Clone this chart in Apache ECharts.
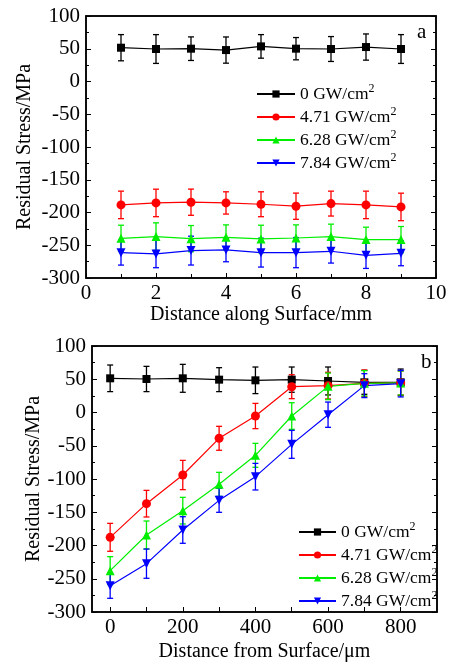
<!DOCTYPE html>
<html>
<head>
<meta charset="utf-8">
<script src="https://cdn.jsdelivr.net/npm/echarts@6/dist/echarts.min.js"></script>
<style>
  html, body { margin: 0; padding: 0; background: #fff; }
  #chart { width: 449px; height: 662px; }
</style>
</head>
<body>
<div id="chart"></div>
<script>
// panel a: distance along surface (mm)
const xA = [1, 2, 3, 4, 5, 6, 7, 8, 9];
const a0 = [51.6, 49.6, 50.1, 48.0, 53.6, 50.1, 49.6, 52.6, 49.6];
const a0Err = [20, 22, 18, 20, 18, 17, 19, 20, 22];
const a471 = [-188.4, -185.4, -184.3, -185.4, -187.4, -190.4, -186.4, -188.4, -191.5];
const a471Err = [21, 21, 20, 17, 19, 20, 19, 21, 21];
const a628 = [-239.4, -236.8, -239.9, -237.9, -240.4, -238.9, -236.8, -241.4, -241.4];
const a628Err = [20, 21, 20, 19, 21, 20, 19, 19, 20];
const a784 = [-261.3, -263.3, -258.2, -257.2, -261.3, -261.3, -259.2, -265.4, -262.3];
const a784Err = [19, 21, 22, 18, 22, 23, 18, 20, 19];

// panel b: distance from surface (um)
const xB = [0, 100, 200, 300, 400, 500, 600, 700, 800];
const b0 = [51.4, 50.4, 51.4, 49.4, 48.4, 49.4, 47.4, 45.4, 45.4];
const b0Err = [20, 19, 21, 18, 20, 19, 21, 18, 20];
const b471 = [-187.7, -137.1, -94.0, -38.8, -5.3, 38.8, 40.4, 43.9, 44.4];
const b471Err = [21, 20, 22, 18, 19, 18, 20, 20, 18];
const b628 = [-237.8, -184.2, -147.6, -108.0, -64.4, -5.3, 39.3, 43.9, 44.4];
const b628Err = [21, 21, 20, 18, 18, 20, 20, 19, 18];
const b784 = [-260.4, -227.3, -176.7, -132.1, -96.5, -47.9, -3.3, 40.4, 43.4];
const b784Err = [19, 22, 20, 18, 20, 21, 19, 18, 20];

const xTicksB = [0, 100, 200, 300, 400, 500, 600, 700, 800];
const xLabelsB = [0, 200, 400, 600, 800];

const names = ['0 GW/cm2', '4.71 GW/cm2', '6.28 GW/cm2', '7.84 GW/cm2'];
const colors = ['#000000', '#ff0000', '#00ee00', '#0000ff'];
const symbols = ['rect', 'circle', 'triangle', 'path://M0,0 L10,0 L5,9 Z'];
const symSizes = [8, 9, 9, 9];

const FONT = 'Liberation Serif';

function pairs(xs, ys) { return xs.map((x, i) => [x, ys[i]]); }
function errs(xs, ys, es) { return xs.map((x, i) => [x, ys[i] - es[i], ys[i] + es[i]]); }

function errorBar(params, api) {
  const x = api.value(0);
  const lo = api.coord([x, api.value(1)]);
  const hi = api.coord([x, api.value(2)]);
  const w = 3;
  const style = { stroke: api.visual('color'), lineWidth: 1.3 };
  return {
    type: 'group',
    children: [
      { type: 'line', shape: { x1: lo[0], y1: lo[1], x2: hi[0], y2: hi[1] }, style },
      { type: 'line', shape: { x1: lo[0] - w, y1: lo[1], x2: lo[0] + w, y2: lo[1] }, style },
      { type: 'line', shape: { x1: hi[0] - w, y1: hi[1], x2: hi[0] + w, y2: hi[1] }, style }
    ]
  };
}

function panelSeries(gi, xs, sets) {
  const out = [];
  sets.forEach((s, k) => {
    out.push({
      type: 'custom', xAxisIndex: gi * 2, yAxisIndex: gi * 2,
      renderItem: errorBar, itemStyle: { color: colors[k] },
      data: errs(xs, s[0], s[1]), z: 2, silent: true
    });
  });
  sets.forEach((s, k) => {
    out.push({
      type: 'line', name: names[k], xAxisIndex: gi * 2, yAxisIndex: gi * 2,
      data: pairs(xs, s[0]), symbol: symbols[k], symbolSize: symSizes[k],
      showSymbol: true, color: colors[k], lineStyle: { width: 1.2, color: colors[k] },
      itemStyle: { color: colors[k] }, z: 3
    });
  });
  return out;
}

const labelStyle = { color: '#000', fontFamily: FONT, fontSize: 21 };
const axisLineStyle = { show: true, onZero: false, lineStyle: { color: '#000', width: 1.5 } };

function yAxes(gi, nameGap) {
  return [
    {
      gridIndex: gi, type: 'value', min: -300, max: 100, interval: 50,
      name: 'Residual Stress/MPa', nameLocation: 'middle', nameGap: nameGap, nameMoveOverlap: false,
      nameTextStyle: { color: '#000', fontFamily: FONT, fontSize: 20 },
      axisLine: axisLineStyle,
      axisTick: { inside: true, length: 5, lineStyle: { color: '#000' } },
      minorTick: { show: true, splitNumber: 2, length: 3, lineStyle: { color: '#000' } },
      axisLabel: Object.assign({ margin: 6, formatter: v => String(v) }, labelStyle),
      splitLine: { show: false }
    },
    {
      gridIndex: gi, type: 'value', min: -300, max: 100, interval: 50, position: 'right',
      axisLine: axisLineStyle,
      axisTick: { inside: true, length: 5, lineStyle: { color: '#000' } },
      minorTick: { show: true, splitNumber: 2, length: 3, lineStyle: { color: '#000' } },
      axisLabel: { show: false }, splitLine: { show: false }
    }
  ];
}

const richLegend = {
  a: { fontFamily: FONT, fontSize: 17.5, color: '#000', lineHeight: 22 },
  s: { fontFamily: FONT, fontSize: 12, color: '#000', lineHeight: 12, verticalAlign: 'top' }
};
function legendFmt(n) { return '{a|' + n.slice(0, -1) + '}{s|2}'; }

const option = {
  backgroundColor: '#fff',
  animation: false,
  grid: [
    { left: 86, right: 13, top: 16, height: 262, outerBoundsMode: 'none', containLabel: false,
      show: true, borderColor: '#000', borderWidth: 1.5 },
    { left: 92, right: 12, top: 346, height: 266, outerBoundsMode: 'none', containLabel: false,
      show: true, borderColor: '#000', borderWidth: 1.5 }
  ],
  legend: [
    {
      data: names, orient: 'vertical', left: 256, top: 83, padding: 0,
      itemWidth: 38, itemHeight: 9, itemGap: 3,
      formatter: legendFmt, textStyle: { rich: richLegend }
    },
    {
      data: names, orient: 'vertical', left: 298, top: 521, padding: 0,
      itemWidth: 37, itemHeight: 9, itemGap: 3,
      formatter: legendFmt, textStyle: { rich: richLegend }
    }
  ],
  xAxis: [
    {
      gridIndex: 0, type: 'value', min: 0, max: 10, interval: 2,
      name: 'Distance along Surface/mm', nameLocation: 'middle', nameGap: 24,
      nameTextStyle: { color: '#000', fontFamily: FONT, fontSize: 20 },
      axisLine: axisLineStyle,
      axisTick: { inside: true, length: 5, lineStyle: { color: '#000' } },
      minorTick: { show: true, splitNumber: 2, length: 4, lineStyle: { color: '#000' } },
      axisLabel: Object.assign({ margin: 5 }, labelStyle),
      splitLine: { show: false }
    },
    {
      gridIndex: 0, type: 'value', min: 0, max: 10, position: 'top',
      axisLine: axisLineStyle,
      axisTick: { show: false }, axisLabel: { show: false }, splitLine: { show: false }
    },
    {
      gridIndex: 1, type: 'value', min: -50, max: 900,
      name: 'Distance from Surface/\u03bcm', nameLocation: 'middle', nameGap: 30,
      nameTextStyle: { color: '#000', fontFamily: FONT, fontSize: 20 },
      axisLine: axisLineStyle,
      axisTick: { inside: true, length: 5, lineStyle: { color: '#000' }, customValues: xTicksB },
      axisLabel: Object.assign({ margin: 5, customValues: xLabelsB }, labelStyle),
      splitLine: { show: false }
    },
    {
      gridIndex: 1, type: 'value', min: -50, max: 900, position: 'top',
      axisLine: axisLineStyle,
      axisTick: { show: false }, axisLabel: { show: false }, splitLine: { show: false }
    }
  ],
  yAxis: yAxes(0, 51).concat(yAxes(1, 48)),
  graphic: [
    { type: 'text', left: 417, top: 22, style: { text: 'a', font: '21px "Liberation Serif"', fill: '#000' } },
    { type: 'text', left: 421, top: 352, style: { text: 'b', font: '21px "Liberation Serif"', fill: '#000' } }
  ],
  series: panelSeries(0, xA, [[a0, a0Err], [a471, a471Err], [a628, a628Err], [a784, a784Err]])
    .concat(panelSeries(1, xB, [[b0, b0Err], [b471, b471Err], [b628, b628Err], [b784, b784Err]]))
};

const chart = echarts.init(document.getElementById('chart'));
chart.setOption(option);
</script>
</body>
</html>
